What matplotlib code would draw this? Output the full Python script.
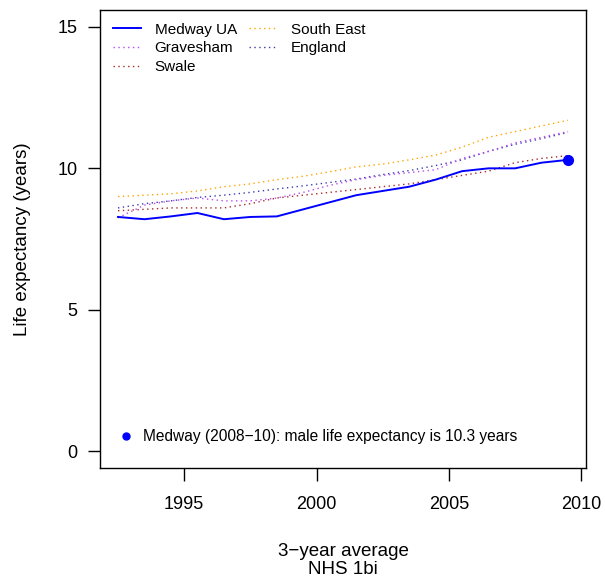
import matplotlib.pyplot as plt
from matplotlib.lines import Line2D

plt.rcParams['font.family'] = ['Liberation Sans', 'DejaVu Sans']

# 3-year average mid-points (1991-93 ... 2008-10)
years = [1992.5, 1993.5, 1994.5, 1995.5, 1996.5, 1997.5, 1998.5, 1999.5, 2000.5,
         2001.5, 2002.5, 2003.5, 2004.5, 2005.5, 2006.5, 2007.5, 2008.5, 2009.5]

medway = [8.28, 8.2, 8.3, 8.42, 8.2, 8.28, 8.3, 8.55, 8.8,
          9.05, 9.2, 9.35, 9.6, 9.9, 10.0, 10.0, 10.2, 10.3]
gravesham = [8.25, 8.7, 8.85, 8.95, 8.85, 8.85, 8.95, 9.15, 9.4,
             9.6, 9.75, 9.85, 9.95, 10.35, 10.6, 10.9, 11.1, 11.3]
swale = [8.5, 8.55, 8.6, 8.6, 8.6, 8.75, 8.95, 9.05, 9.15,
         9.25, 9.35, 9.45, 9.6, 9.75, 9.9, 10.2, 10.35, 10.45]
south_east = [9.0, 9.05, 9.1, 9.2, 9.35, 9.45, 9.6, 9.72, 9.88,
              10.05, 10.15, 10.3, 10.47, 10.75, 11.1, 11.3, 11.5, 11.7]
england = [8.6, 8.75, 8.85, 8.97, 9.05, 9.15, 9.27, 9.38, 9.5,
           9.62, 9.78, 9.92, 10.1, 10.3, 10.6, 10.85, 11.05, 11.27]

fig = plt.figure(figsize=(6.05, 5.79), dpi=100)
ax = fig.add_axes([0.1653, 0.1917, 0.8033, 0.791])

dot = (0, (1, 2.5))
ax.plot(years, south_east, color='#FFA500', lw=1, linestyle=dot, label='South East')
ax.plot(years, england, color='#3B3BB0', lw=1, linestyle=dot, label='England')
ax.plot(years, swale, color='#A52A2A', lw=1, linestyle=dot, label='Swale')
ax.plot(years, gravesham, color='#B84CF0', lw=1, linestyle=dot, label='Gravesham')
ax.plot(years, medway, color='#0000FF', lw=1.4, label='Medway UA')
ax.plot(years[-1], medway[-1], 'o', color='#0000FF', ms=7)

ax.set_xlim(1991.82, 2010.18)
ax.set_ylim(-0.6, 15.6)
ax.set_xticks([1995, 2000, 2005, 2010])
ax.set_yticks([0, 5, 10, 15])
ax.tick_params(direction='out', length=9, width=1, labelsize=13, pad=7)
ax.tick_params(axis='x', pad=11)
for s in ax.spines.values():
    s.set_linewidth(1)

ax.set_ylabel('Life expectancy (years)', fontsize=13.5)
ax.yaxis.set_label_coords(-0.142, 0.5)
ax.set_xlabel('3\u2212year average\nNHS 1bi', fontsize=13.5, linespacing=1.1)
ax.xaxis.set_label_coords(0.5, -0.164)

h = {l.get_label(): l for l in ax.get_lines()}
order = ['Medway UA', 'Gravesham', 'Swale', 'South East', 'England']
leg = ax.legend([h[k] for k in order], order, loc='upper left', ncol=2, frameon=False,
                fontsize=11, handlelength=1.85, handletextpad=0.9, columnspacing=0.8,
                labelspacing=0.3, borderpad=0, borderaxespad=0,
                bbox_to_anchor=(0.026, 0.972))
ax.add_artist(leg)

note = Line2D([], [], marker='o', color='#0000FF', linestyle='none', ms=5)
ax.legend([note], ['Medway (2008\u221210): male life expectancy is 10.3 years'],
          loc='lower left', frameon=False, fontsize=11.2, handlelength=0.6,
          handletextpad=0.82, borderpad=0, borderaxespad=0,
          bbox_to_anchor=(0.043, 0.052))

fig.savefig('out.png', dpi=100)
